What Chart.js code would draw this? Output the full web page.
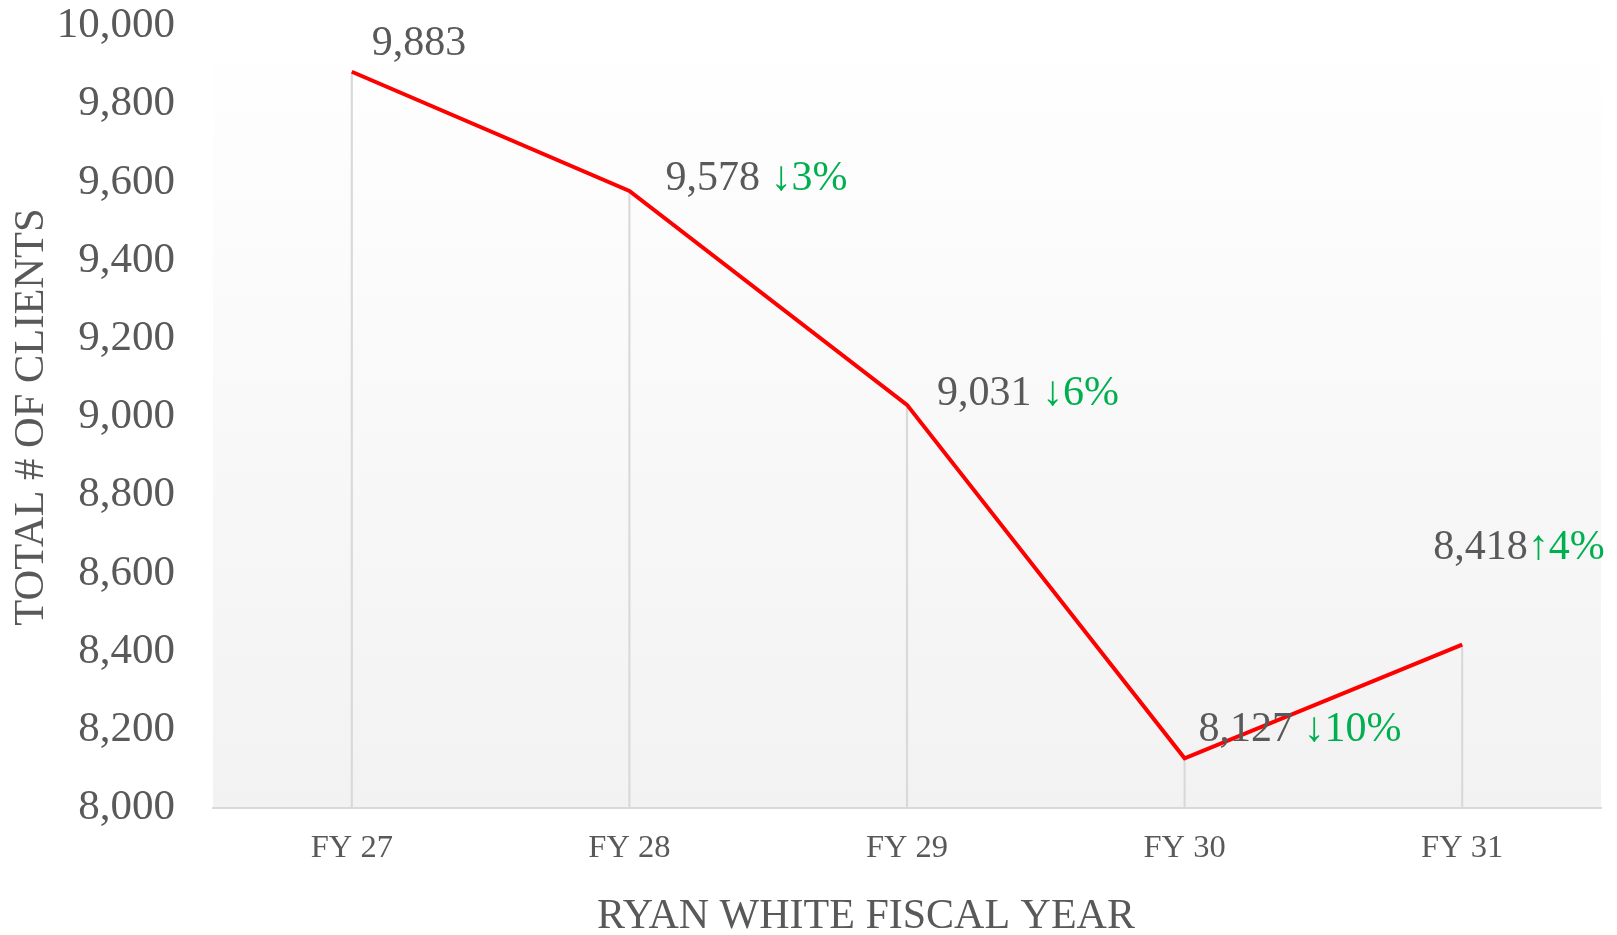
<!DOCTYPE html>
<html>
<head>
<meta charset="utf-8">
<script src="https://cdn.jsdelivr.net/npm/chart.js@4"></script>
<style>
  html, body { margin: 0; padding: 0; background: #ffffff; }
  #wrap { width: 1617px; height: 935px; position: relative; }
</style>
</head>
<body>
<div id="wrap"><canvas id="clients-chart"></canvas></div>
<script>
// chart data
const categories = ["FY 27", "FY 28", "FY 29", "FY 30", "FY 31"];
const clients = [9883, 9578, 9031, 8127, 8418];
const changeText = ["", " \u21933%", " \u21936%", " \u219310%", "\u21914%"];
const yMin = 8000;
const yMax = 10000;
const yStep = 200;

// label placement relative to each point (px)
const labelOffsets = [[20, -28], [36, -12], [30, -11], [14, -28], [-29, -97]];

const serif = "'Liberation Serif', 'Times New Roman', serif";
const grey = "#595959";
const green = "#00b050";

const plotBackground = {
    id: "plotBackground",
    beforeDraw(chart) {
        const { ctx, chartArea: a } = chart;
        const g = ctx.createLinearGradient(0, a.top, 0, a.bottom);
        g.addColorStop(0, "#ffffff");
        g.addColorStop(1, "#f2f2f2");
        ctx.save();
        ctx.fillStyle = g;
        ctx.fillRect(a.left, a.top, a.right - a.left, a.bottom - a.top);
        ctx.restore();
    }
};

const valueLabels = {
    id: "valueLabels",
    afterDatasetsDraw(chart) {
        const ctx = chart.ctx;
        const meta = chart.getDatasetMeta(0);
        ctx.save();
        ctx.font = "42px " + serif;
        ctx.textBaseline = "middle";
        ctx.textAlign = "left";
        meta.data.forEach(function(pt, i) {
            const x = pt.x + labelOffsets[i][0];
            const y = pt.y + labelOffsets[i][1];
            const main = clients[i].toLocaleString("en-US");
            ctx.fillStyle = grey;
            ctx.fillText(main, x, y);
            if (changeText[i]) {
                ctx.fillStyle = green;
                ctx.fillText(changeText[i], x + ctx.measureText(main).width, y);
            }
        });
        ctx.restore();
    },
    afterDraw(chart) {
        const ctx = chart.ctx;
        ctx.save();
        ctx.font = "42px " + serif;
        ctx.fillStyle = grey;
        ctx.textAlign = "center";
        ctx.textBaseline = "middle";
        ctx.fillText("RYAN WHITE FISCAL YEAR", 866, 917);
        ctx.restore();
    }
};

new Chart(document.getElementById("clients-chart"), {
    type: "line",
    data: {
        labels: categories,
        datasets: [
            {
                label: "Total clients",
                data: clients,
                borderColor: "#ff0000",
                borderWidth: 4,
                pointRadius: 0,
                tension: 0,
                fill: false,
                order: 0
            },
            {
                type: "bar",
                label: "drop",
                data: clients,
                backgroundColor: "#d9d9d9",
                barThickness: 1.5,
                order: 1
            }
        ]
    },
    options: {
        responsive: true,
        maintainAspectRatio: false,
        animation: false,
        layout: { padding: { left: 0, right: 16, top: 26, bottom: 0 } },
        plugins: {
            legend: { display: false },
            tooltip: { enabled: false }
        },
        scales: {
            x: {
                offset: true,
                grid: { display: false, drawTicks: false },
                border: { display: true, color: "#d9d9d9", width: 2 },
                ticks: {
                    color: grey,
                    padding: 21,
                    font: { family: serif, size: 32.5 }
                },
                afterFit: function(scale) { scale.height = 127; }
            },
            y: {
                min: yMin,
                max: yMax,
                grid: { display: false, drawTicks: false },
                border: { display: false },
                ticks: {
                    stepSize: yStep,
                    color: grey,
                    padding: 38,
                    font: { family: serif, size: 43, lineHeight: 1.1 },
                    callback: function(v) { return v.toLocaleString("en-US"); }
                },
                title: {
                    display: true,
                    text: "TOTAL # OF CLIENTS",
                    color: grey,
                    padding: { top: 6, bottom: 0 },
                    font: { family: serif, size: 42.5 }
                },
                afterFit: function(scale) {
                    scale.width = 213;
                    scale.paddingTop = 0;
                    scale.paddingBottom = 0;
                }
            }
        }
    },
    plugins: [plotBackground, valueLabels]
});
</script>
</body>
</html>
